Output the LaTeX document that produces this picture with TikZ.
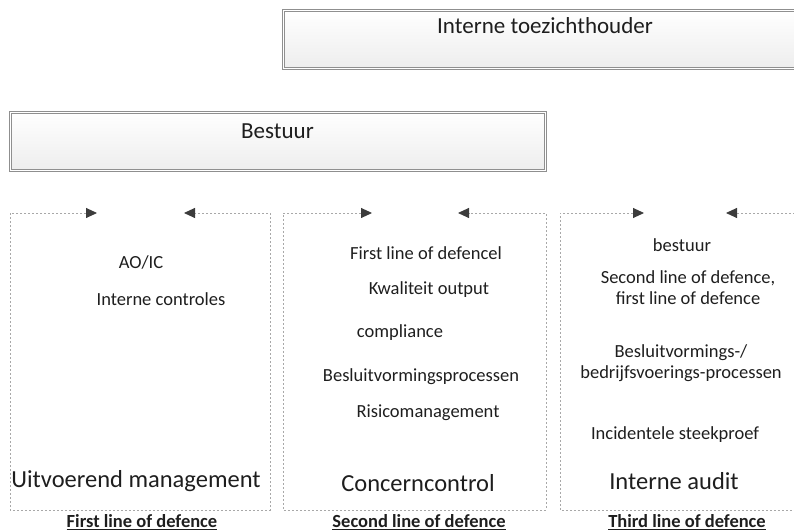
\documentclass[tikz,border=0pt]{standalone}
\usepackage{fontspec}
\setmainfont{Carlito}
\usetikzlibrary{arrows.meta,shadings}
\definecolor{txt}{HTML}{1E1E1E}
\definecolor{frame}{HTML}{A8A8A8}
\definecolor{tipc}{HTML}{3C3C3C}
\tikzset{
  px/.style={x=1pt,y=1pt},
  headbox/.style={draw=frame!85!black,double=white,double distance=1.6pt,line width=1pt,
    top color=white,bottom color=gray!14},
  small/.style={font=\fontsize{18.5}{21}\selectfont,text=txt,inner sep=0pt,align=center},
  big/.style={font=\fontsize{24.5}{28}\selectfont,text=txt,inner sep=0pt},
  head/.style={font=\fontsize{23}{26}\selectfont,text=txt,inner sep=0pt},
  lbl/.style={font=\bfseries\fontsize{18.5}{21}\selectfont,text=txt,inner sep=0pt},
  frameline/.style={draw=frame,line width=0.9pt,dash pattern=on 2.2pt off 1.8pt,
    {Triangle[length=11pt,width=10pt,color=tipc]}-{Triangle[length=11pt,width=10pt,color=tipc]}}
}
\begin{document}
\begin{tikzpicture}[px]
\useasboundingbox (0,0) rectangle (794,532);
\begin{scope}
\clip (0,0) rectangle (794,532);
% top boxes
\node[headbox,minimum width=524pt,minimum height=58pt,anchor=north west] (toez) at (283,522) {};
\node[head] (toezt) at (545,506) {Interne toezichthouder};
\node[headbox,minimum width=535pt,minimum height=58pt,anchor=north west] (best) at (10,420) {};
\node[head] (bestt) at (277.5,401) {Bestuur};

% column frames
\coordinate (a1) at (97,319); \coordinate (a2) at (10,319); \coordinate (a3) at (10,22);
\coordinate (a4) at (270,22); \coordinate (a5) at (270,319); \coordinate (a6) at (184,319);
\draw[frameline] (a1) -- (a2) -- (a3) -- (a4) -- (a5) -- (a6);
\coordinate (b1) at (372,319); \coordinate (b2) at (283,319); \coordinate (b3) at (283,22);
\coordinate (b4) at (546,22); \coordinate (b5) at (546,319); \coordinate (b6) at (458,319);
\draw[frameline] (b1) -- (b2) -- (b3) -- (b4) -- (b5) -- (b6);
\coordinate (c1) at (644,319); \coordinate (c2) at (560,319); \coordinate (c3) at (560,22);
\coordinate (c4) at (812,22); \coordinate (c5) at (812,319); \coordinate (c6) at (726,319);
\draw[frameline] (c1) -- (c2) -- (c3) -- (c4) -- (c5) -- (c6);
\end{scope}

% column 1
\node[small] (aoic) at (141,270) {AO/IC};
\node[small] (intc) at (161,233) {Interne controles};
\node[big] (uitv) at (136,51) {Uitvoerend management};
% column 2
\node[small] (fld) at (426,279) {First line of defencel};
\node[small] (kwo) at (429,242) {Kwaliteit output};
\node[small] (comp) at (400,199) {compliance};
\node[small] (bvp) at (421,155) {Besluitvormingsprocessen};
\node[small] (risk) at (428,119) {Risicomanagement};
\node[big] (conc) at (418,49) {Concerncontrol};
% column 3
\node[small] (bst) at (682,287) {bestuur};
\node[small] (sld) at (688,244) {Second line of defence,\\first line of defence};
\node[small] (bvf) at (681,169) {Besluitvormings-/\\bedrijfsvoerings-processen};
\node[small] (inc) at (675,97) {Incidentele steekproef};
\node[big] (iaud) at (674,51) {Interne audit};
% labels
\node[lbl] (l1) at (142,10) {\underline{First line of defence}};
\node[lbl] (l2) at (419,10) {\underline{Second line of defence}};
\node[lbl] (l3) at (687,10) {\underline{Third line of defence}};
\end{tikzpicture}
\end{document}
